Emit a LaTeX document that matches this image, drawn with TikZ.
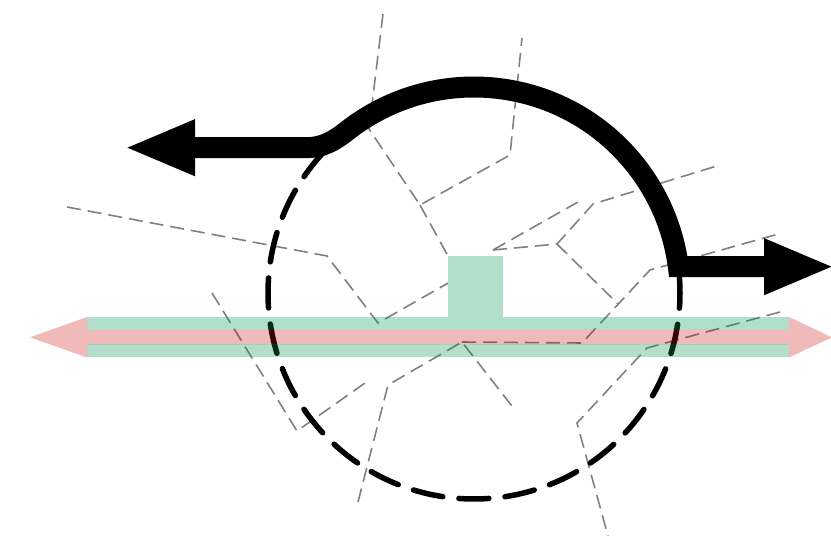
\documentclass[tikz,border=0pt]{standalone}
\usetikzlibrary{arrows.meta}
\definecolor{roadgreen}{RGB}{0,150,75}
\definecolor{roadred}{RGB}{203,0,0}
\definecolor{lotgreen}{RGB}{179,224,201}
\definecolor{parcelgrey}{RGB}{128,128,128}
\begin{document}
\begin{tikzpicture}[x=1pt,y=1pt,
  parcel/.style={draw=parcelgrey, line width=1.6pt, dash pattern=on 14pt off 7pt},
  zoneline/.style={draw=black, line width=5.5pt, line cap=round, dash pattern=on 30pt off 16.226pt, dash phase=15pt},
  routeline/.style={draw=black, line width=21pt, {Triangle[length=71pt,width=51pt]}-{Triangle[length=71pt,width=51pt]}},
  greenband/.style={fill=roadgreen, fill opacity=0.3},
  redband/.style={fill=roadred, fill opacity=0.27}]
\useasboundingbox (0,0) rectangle (831,536);
% parcel boundaries
\draw[parcel] (383,522) -- (369,407) -- (420,331) -- (510,381) -- (522,498);
\draw[parcel] (420,331) -- (448,280);
\draw[parcel] (67,329) -- (327,280) -- (378,213) -- (450,254);
\draw[parcel] (212,243) -- (297,105) -- (365,153);
\draw[parcel] (358,34) -- (388,151) -- (462,194) -- (515,126);
\draw[parcel] (462,194) -- (582,193) -- (650,266) -- (782,303);
\draw[parcel] (557,292) -- (618,232);
\draw[parcel] (493,286) -- (557,292) -- (593,332) -- (720,371);
\draw[parcel] (493,286) -- (578,334);
\draw[parcel] (780,224) -- (647,188) -- (577,113) -- (608,0);
% zone circle
\coordinate (zc) at (474,243);
\draw[zoneline] (zc) circle[radius=206pt];
% road
\fill[greenband] (87,206) rectangle (789,219);
\fill[greenband] (87,178.5) rectangle (789,191.5);
\fill[redband] (30,198.7) -- (87,219) -- (87,206) -- (789,206) -- (789,219) -- (832,198.7)
  -- (789,178.5) -- (789,191.5) -- (87,191.5) -- (87,178.5) -- cycle;
% lot
\fill[lotgreen] (448,219) rectangle (503,280);
% route
\coordinate (west) at (124,388.3);
\coordinate (bend) at (305,388.3);
\coordinate (join) at (347.2,405.3);
\coordinate (east) at (835,269.3);
\draw[routeline] (west) -- (bend) to[out=0,in=218] (join)
  arc[start angle=128, end angle=7.34, radius=206pt] -- (east);
\end{tikzpicture}
\end{document}
